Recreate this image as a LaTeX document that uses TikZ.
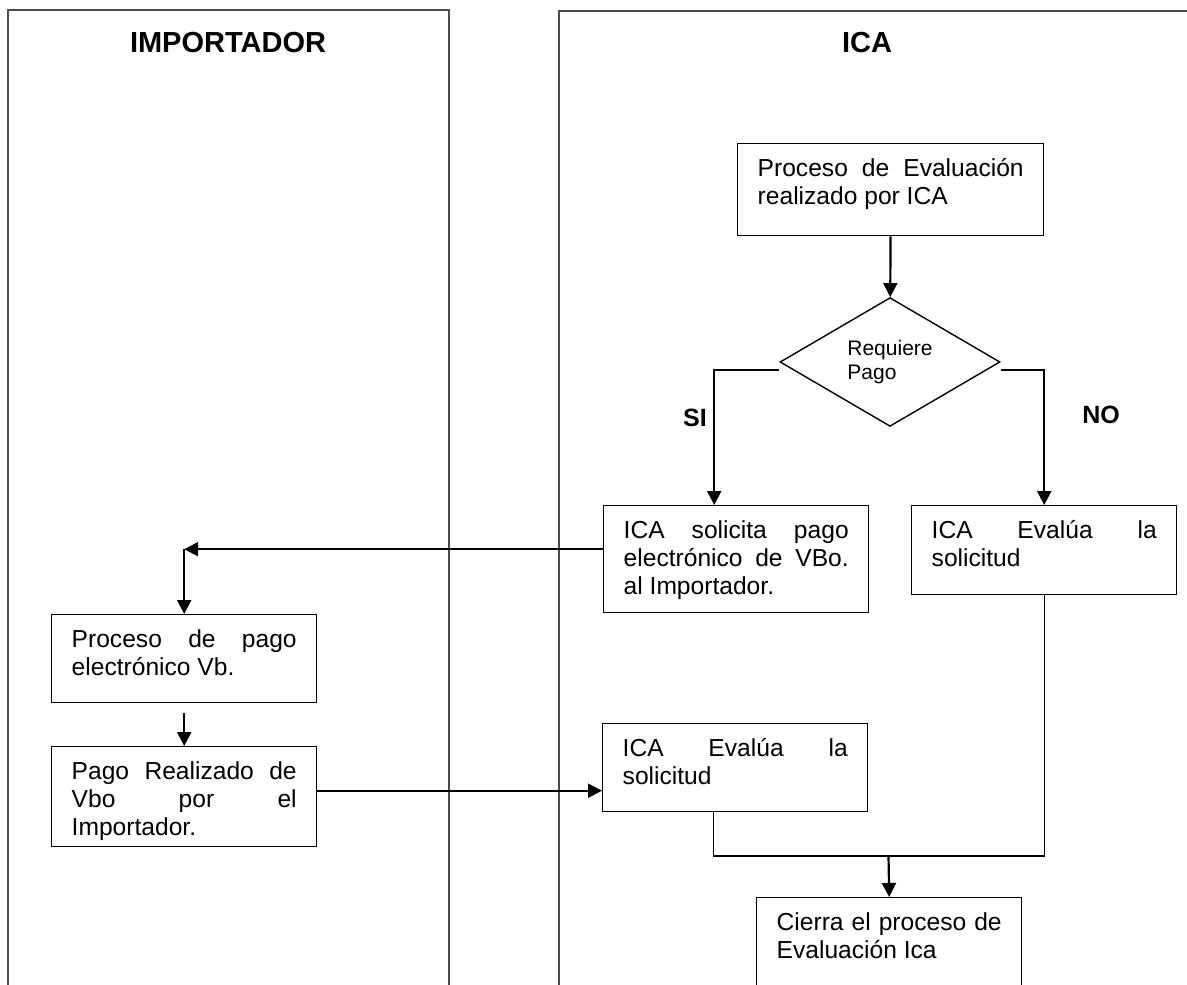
\documentclass[tikz,border=0pt]{standalone}
\usepackage{fontspec}
\setmainfont{Liberation Sans}
\usetikzlibrary{arrows.meta,shapes.geometric}

\begin{document}
\begin{tikzpicture}[x=0.5pt,y=-0.5pt,
  lane/.style={draw=black!70,line width=1pt},
  title/.style={font=\fontsize{14.5}{17}\selectfont\bfseries,anchor=base},
  box/.style={draw,line width=0.7pt,anchor=north west,align=justify,
    inner xsep=10pt,inner ysep=7.5pt,text height=9pt,text width=112.5pt,
    font=\fontsize{12.3}{14}\selectfont},
  decision/.style={diamond,draw,line width=0.7pt,inner sep=0pt,
    minimum width=110pt,minimum height=56pt,align=left,
    font=\fontsize{10.5}{12}\selectfont},
  answer/.style={font=\fontsize{12.5}{15}\selectfont\bfseries},
  arr/.style={line width=1.1pt,-{Triangle[length=7pt,width=7pt]}},
  link/.style={line width=0.7pt}]

\useasboundingbox (0,0) rectangle (1187,984);
\clip (0,0) rectangle (1187,984);

%% swimlanes
\draw[lane] (8,10) rectangle (449,1010);
\draw[lane] (559,11) rectangle (1210,1010);

\node (imp) at (228,53) [title] {IMPORTADOR};
\node (ica) at (867,53) [title] {ICA};

%% ICA side
\node (eval) at (737,143) [box,text width=133pt,text depth=22pt] {Proceso de Evaluación\linebreak realizado por ICA};
\node (dia) at (890,362) [decision] {Requiere\\Pago};

\node (si) at (695,418) [answer] {SI};
\node (no) at (1101,415) [answer] {NO};

\node (sol) at (603,505) [box,text depth=29.5pt] {ICA solicita pago\linebreak electrónico de VBo.\linebreak al Importador.};
\node (eva1) at (911,505) [box,text depth=20.5pt] {ICA Evalúa la\linebreak solicitud};
\node (eva2) at (602,723) [box,text depth=20pt] {ICA Evalúa la\linebreak solicitud};
\node (close) at (756,897) [box,text depth=36pt] {Cierra el proceso de\linebreak Evaluación Ica};

%% importer side
\node (pay) at (51,614) [box,text depth=20pt] {Proceso de pago\linebreak electrónico Vb.};
\node (paid) at (51,746) [box,text depth=26pt] {Pago Realizado de\linebreak Vbo por el\linebreak Importador.};

%% connectors
\coordinate (corner) at ([yshift=5pt]sol.west -| pay.north);
\coordinate (join) at (888.5,856);

\draw[arr] (eval) -- (dia);
\draw[arr] ([yshift=-4pt]dia.west) -| ([xshift=-11pt]sol.north);
\draw[arr] ([yshift=-4pt]dia.east) -| (eva1.north);
\draw[arr] ([yshift=5pt]sol.west) -- (corner);
\draw[arr] (corner) -- (pay.north);
\draw[arr,shorten <=5pt] (pay) -- (paid);
\draw[arr] ([yshift=3pt]paid.east) -- ([yshift=3pt]paid.east -| eva2.west);
\draw[link] ([xshift=-11pt]eva2.south) |- (join) -| (eva1.south);
\draw[arr] (join) -- (close.north);

\end{tikzpicture}
\end{document}
